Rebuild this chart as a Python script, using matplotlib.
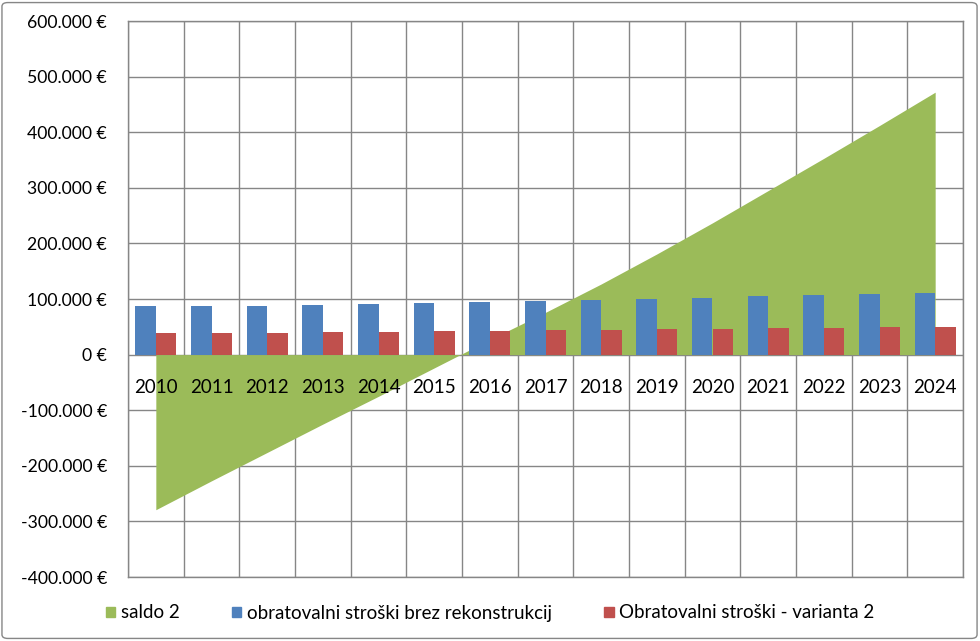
import matplotlib
matplotlib.use("Agg")
import matplotlib.pyplot as plt
import numpy as np
from matplotlib.patches import Patch, FancyBboxPatch
from matplotlib.ticker import FuncFormatter

years = ["2010", "2011", "2012", "2013", "2014", "2015", "2016", "2017",
         "2018", "2019", "2020", "2021", "2022", "2023", "2024"]
saldo_2 = [-279000, -227000, -176000, -125000, -75000, -24000, 27000, 76000,
           127000, 181000, 237000, 295000, 353000, 412000, 472000]
brez_rekonstrukcij = [87000, 87000, 87500, 89000, 91000, 92500, 94500, 96500,
                      98500, 100500, 102000, 105500, 107500, 109500, 111500]
varianta_2 = [38000, 38500, 39500, 40000, 40500, 42000, 42000, 43500,
              44000, 45500, 46000, 47500, 48000, 49500, 49500]

GREEN = "#9BBB59"
BLUE = "#4F81BD"
RED = "#C0504D"
GRID = "#868686"

plt.rcParams["font.family"] = ["Lato", "DejaVu Sans"]


def euro(v, _pos=None):
    return f"{v:,.0f}".replace(",", ".") + " €"


fig = plt.figure(figsize=(9.8, 6.41), dpi=100)
ax = fig.add_axes([128 / 980, 1 - 577 / 641, 835 / 980, 556 / 641])

x = np.arange(len(years))
w = 0.37
ax.fill_between(x, 0, saldo_2, color=GREEN, linewidth=0, zorder=2)
ax.bar(x - w / 2, brez_rekonstrukcij, w, color=BLUE, zorder=3)
ax.bar(x + w / 2, varianta_2, w, color=RED, zorder=3)

ax.set_xlim(-0.5, len(years) - 0.5)
ax.set_ylim(-400000, 600000)
ax.set_yticks(np.arange(-400000, 600001, 100000))
ax.yaxis.set_major_formatter(FuncFormatter(euro))
ax.set_xticks(np.arange(-0.5, len(years), 1))
ax.set_xticklabels([])
ax.tick_params(axis="x", length=0)
ax.tick_params(axis="y", length=0, pad=15, labelsize=12.7, labelcolor="black")
ax.grid(True, color=GRID, linewidth=1)
ax.set_axisbelow(True)
for s in ax.spines.values():
    s.set_color(GRID)
    s.set_linewidth(1)

# category labels sit just under the zero line, over the area
for xi, lab in zip(x, years):
    ax.text(xi, -59000, lab, ha="center", va="center", fontsize=13.5, zorder=5)

handles = [Patch(color=GREEN, label="saldo 2"),
           Patch(color=BLUE, label="obratovalni stroški brez rekonstrukcij"),
           Patch(color=RED, label="Obratovalni stroški - varianta 2")]
fig.legend(handles=handles, loc="center", bbox_to_anchor=(0.5, 1 - 613 / 641),
           ncol=3, frameon=False, fontsize=13.5, handlelength=0.5,
           handleheight=0.5, handletextpad=0.3, columnspacing=2.8)

fig.patches.append(FancyBboxPatch((0.002, 0.004), 0.995, 0.992,
                                  boxstyle="round,pad=0,rounding_size=0.006",
                                  transform=fig.transFigure, fill=False,
                                  ec=GRID, lw=1))

fig.savefig("out.png", dpi=100)
